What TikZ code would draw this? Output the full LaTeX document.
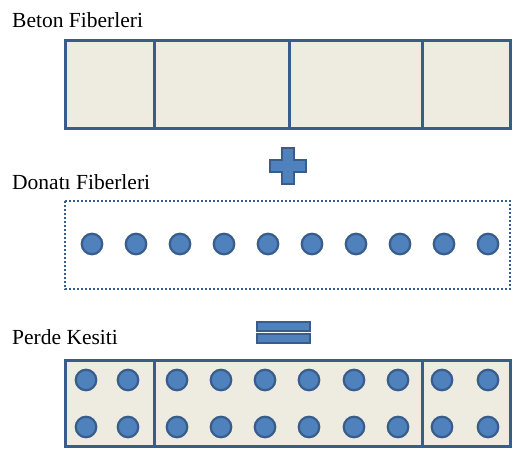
\documentclass[tikz,border=0pt]{standalone}
\usepackage{fontspec}
\setmainfont{Liberation Serif}
\definecolor{beige}{HTML}{EEECE1}
\definecolor{bordblue}{HTML}{385D8A}
\definecolor{dotblue}{HTML}{4F81BD}
\begin{document}
\begin{tikzpicture}[x=1pt,y=-1pt,
  lbl/.style={anchor=base west,inner sep=0pt,font=\fontsize{21.5}{25}\selectfont},
  panel/.style={draw=bordblue,line width=3pt,fill=beige},
  divider/.style={draw=bordblue,line width=3pt},
  bar/.style={circle,draw=bordblue,line width=2.2pt,fill=dotblue,minimum size=20.5pt,inner sep=0pt},
  sym/.style={draw=bordblue,line width=1.6pt,fill=dotblue}]
\useasboundingbox[fill=white] (0,0) rectangle (515,451);
% labels
\node[lbl] (t1) at (12,27) {Beton Fiberleri};
\node[lbl] (t2) at (12,189) {Donatı Fiberleri};
\node[lbl] (t3) at (12,344) {Perde Kesiti};
% concrete fibres
\draw[panel] (65,40) rectangle (510,128);
\foreach \x in {154,289,422} \draw[divider] (\x,40) -- (\x,128);
% plus
\draw[sym] (282,148) -- (294,148) -- (294,160) -- (306,160) -- (306,172) -- (294,172)
  -- (294,184) -- (282,184) -- (282,172) -- (270,172) -- (270,160) -- (282,160) -- cycle;
% rebar fibres
\draw[draw=bordblue,line width=2.6pt,dash pattern=on 2pt off 2pt] (65,201) rectangle (510,289);
\foreach \i [count=\k] in {92,136,180,224,268,312,356,400,444,488}
  \node[bar] (d\k) at (\i,244) {};
% equals
\draw[sym] (257,322) rectangle (310,331);
\draw[sym] (257,334) rectangle (310,343);
% section
\draw[panel] (65,360) rectangle (510,446);
\foreach \x in {154,422} \draw[divider] (\x,360) -- (\x,446);
\foreach \i [count=\k] in {86,128,177,221,265,309,354,398,442,488}{
  \node[bar] (u\k) at (\i,380) {};
  \node[bar] (l\k) at (\i,427) {};
}
\end{tikzpicture}
\end{document}
